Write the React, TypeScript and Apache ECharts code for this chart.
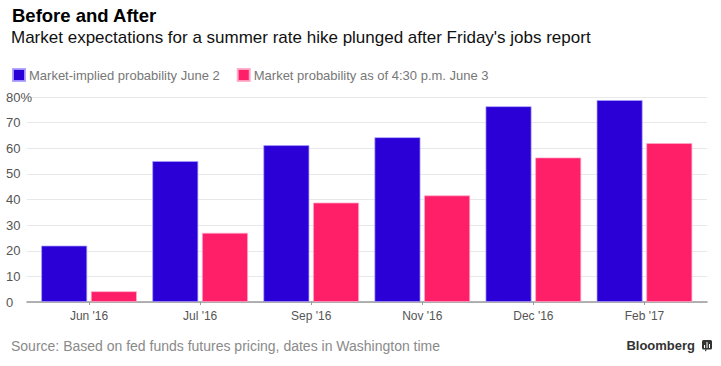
import React, { useEffect, useRef } from "react";
import * as echarts from "echarts";

const categories = ["Jun '16", "Jul '16", "Sep '16", "Nov '16", "Dec '16", "Feb '17"];
const june2 = [22, 55, 61.2, 64.3, 76.4, 78.8];
const june3 = [4.2, 27, 38.8, 41.6, 56.4, 62];
const seriesNames = ["Market-implied probability June 2", "Market probability as of 4:30 p.m. June 3"];
const yTicks = { min: 0, max: 80, interval: 10 };

const FONT = "'Liberation Sans', Arial, sans-serif";

export default function App() {
  const ref = useRef<HTMLDivElement>(null);
  useEffect(() => {
    if (!ref.current) return;
    const chart = echarts.init(ref.current, null, { renderer: "svg" });
    chart.setOption({
      animation: false,
      backgroundColor: "#ffffff",
      textStyle: { fontFamily: FONT },
      title: [
        {
          text: "Before and After",
          left: 12,
          top: 6,
          padding: 0,
          textStyle: { fontFamily: FONT, fontWeight: "bold", fontSize: 18.5, color: "#000" },
        },
        {
          text: "Market expectations for a summer rate hike plunged after Friday's jobs report",
          left: 11,
          top: 29,
          padding: 0,
          textStyle: { fontFamily: FONT, fontWeight: "normal", fontSize: 17, color: "#111" },
        },
        {
          text: "Source: Based on fed funds futures pricing, dates in Washington time",
          left: 11,
          top: 339,
          padding: 0,
          textStyle: { fontFamily: FONT, fontWeight: "normal", fontSize: 14, color: "#8a8a8a" },
        },
        {
          text: "Bloomberg",
          right: 26,
          top: 339,
          padding: 0,
          textStyle: { fontFamily: FONT, fontWeight: "bold", fontSize: 13, color: "#333" },
        },
      ],
      legend: {
        left: 12,
        top: 68,
        padding: 0,
        itemWidth: 12,
        itemHeight: 12,
        itemGap: 17,
        icon: "rect",
        textStyle: { fontSize: 13, color: "#777", fontFamily: FONT, padding: [0, 0, 0, -1] },
        data: seriesNames,
      },
      grid: [
        { left: 27, right: 14, top: 97, bottom: 64 },
        { left: 33.5, right: 21, top: 97, bottom: 64 },
      ],
      xAxis: [
        {
          gridIndex: 0,
          type: "value",
          min: 0,
          max: 1,
          axisLine: { show: true, onZero: false, lineStyle: { color: "#999", width: 1.5 } },
          axisTick: { show: false },
          axisLabel: { show: false },
          splitLine: { show: false },
        },
        {
          gridIndex: 1,
          type: "category",
          data: categories,
          axisLine: { show: false },
          axisTick: { show: true, alignWithLabel: true, length: 3, lineStyle: { color: "#999" } },
          axisLabel: { fontSize: 12, color: "#555", margin: 8, fontFamily: FONT },
        },
      ],
      yAxis: [
        {
          gridIndex: 0,
          type: "value",
          min: yTicks.min,
          max: yTicks.max,
          interval: yTicks.interval,
          axisLine: { show: false },
          axisTick: { show: false },
          splitLine: { show: true, lineStyle: { color: "#e8e8e8", width: 1 } },
          axisLabel: {
            align: "left",
            margin: 21,
            fontSize: 13,
            color: "#555",
            fontFamily: FONT,
            formatter: (v: number) => (v === yTicks.max ? v + "%" : String(v)),
          },
        },
        {
          gridIndex: 1,
          type: "value",
          min: yTicks.min,
          max: yTicks.max,
          interval: yTicks.interval,
          show: false,
          splitLine: { show: false },
        },
      ],
      series: [
        {
          name: seriesNames[0],
          type: "bar",
          xAxisIndex: 1,
          yAxisIndex: 1,
          data: june2,
          barWidth: 46,
          barGap: "8%",
          itemStyle: { color: "#2a00d6", borderColor: "rgba(170,160,255,0.9)", borderWidth: 0.8 },
        },
        {
          name: seriesNames[1],
          type: "bar",
          xAxisIndex: 1,
          yAxisIndex: 1,
          data: june3,
          barWidth: 46,
          barGap: "8%",
          itemStyle: { color: "#ff1f68", borderColor: "rgba(255,170,200,0.9)", borderWidth: 0.8 },
        },
      ],
      graphic: [
        {
          type: "group",
          left: 702,
          top: 340,
          children: [
            { type: "rect", shape: { x: 0, y: 0, width: 10, height: 9.5, r: 1.5 }, style: { fill: "#333" } },
            { type: "polygon", shape: { points: [[3, 9.5], [5.5, 9.5], [3, 11.5]] }, style: { fill: "#333" } },
            { type: "rect", shape: { x: 2, y: 5, width: 1, height: 3 }, style: { fill: "#fff" } },
            { type: "rect", shape: { x: 4.5, y: 2, width: 1, height: 6 }, style: { fill: "#fff" } },
            { type: "rect", shape: { x: 7, y: 4, width: 1, height: 4 }, style: { fill: "#fff" } },
          ],
        },
      ],
    });
    return () => chart.dispose();
  }, []);
  return <div ref={ref} style={{ position: "fixed", left: 0, top: 0, width: 721, height: 366 }} />;
}
